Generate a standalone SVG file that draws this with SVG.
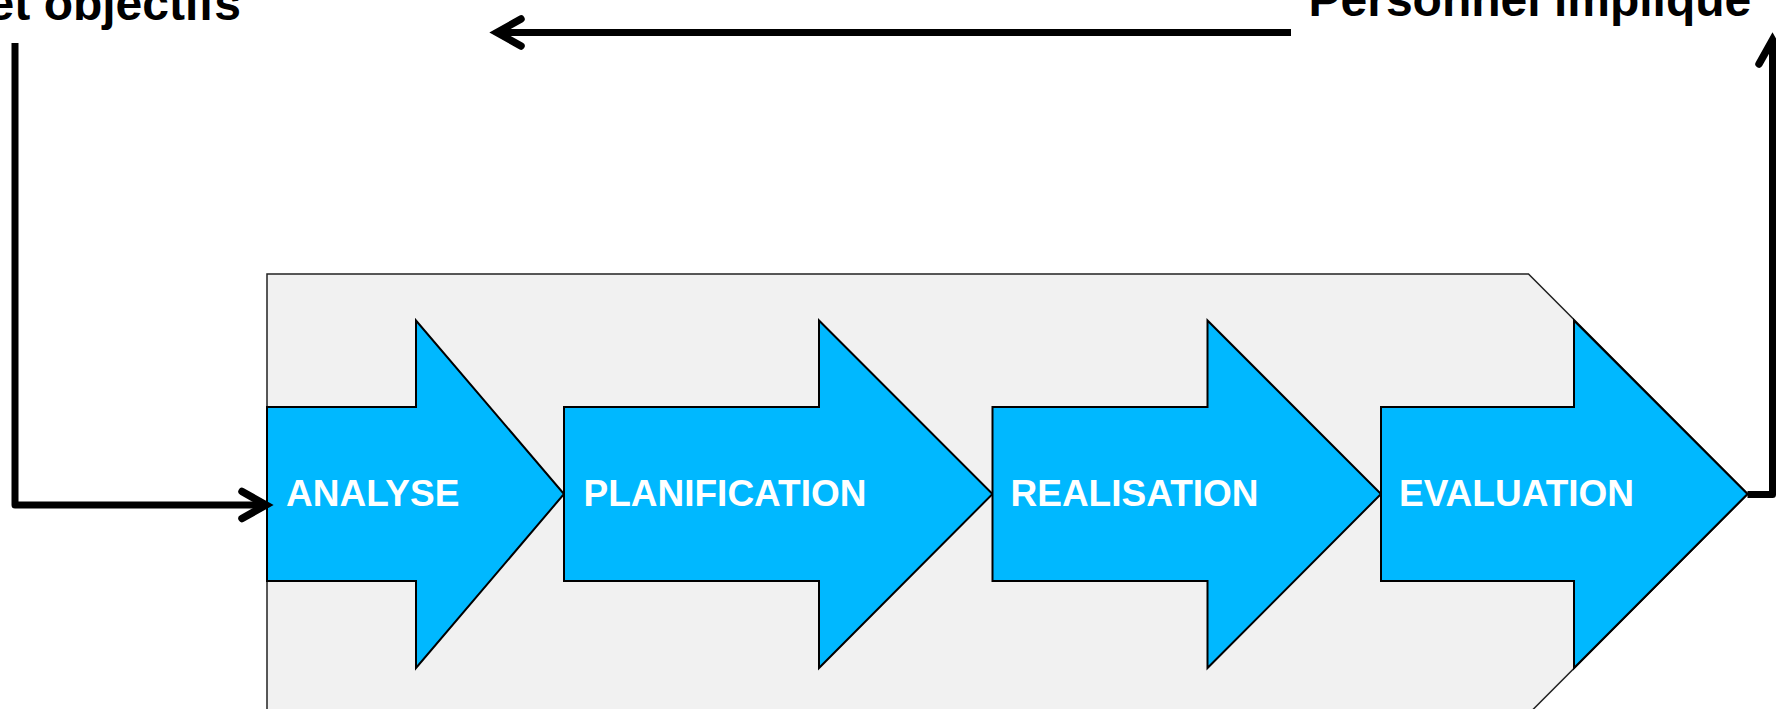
<svg xmlns="http://www.w3.org/2000/svg" width="1776" height="709" viewBox="0 0 1776 709">
<defs>
<style>
.bg{fill:#F1F1F1;stroke:#222;stroke-width:1.5}
.step{fill:#00B8FF;stroke:#000;stroke-width:2;stroke-linejoin:miter}
.lbl{font-family:"Liberation Sans",Arial,sans-serif;font-weight:bold;font-size:37px;fill:#fff}
.top{font-family:"Liberation Sans",Arial,sans-serif;font-weight:bold;font-size:48px;fill:#000}
.conn{fill:none;stroke:#000;stroke-width:7;stroke-linejoin:round;stroke-linecap:butt}
</style>
<marker id="ah" markerUnits="userSpaceOnUse" markerWidth="50" markerHeight="50" viewBox="-35 -25 50 50" refX="0" refY="0" orient="auto" overflow="visible">
<path d="M-24,-13.5 L0,0 L-24,13.5" fill="none" stroke="#000" stroke-width="7.5" stroke-linecap="round" stroke-linejoin="miter"/>
</marker>
</defs>
<g id="background">
<path class="bg" d="M267,274 L1528.5,274 L1748,494 L1528.5,714 L267,714 Z"/>
</g>
<g id="analyse">
<path class="step" d="M267,407 L416,407 L416,320.5 L564,494 L416,668 L416,581 L267,581 Z"/>
<text class="lbl" x="286" y="506">ANALYSE</text>
</g>
<g id="planification">
<path class="step" d="M564,407 L819,407 L819,320.5 L992.5,494 L819,668 L819,581 L564,581 Z"/>
<text class="lbl" x="583.5" y="506">PLANIFICATION</text>
</g>
<g id="realisation">
<path class="step" d="M992.5,407 L1207.5,407 L1207.5,320.5 L1381,494 L1207.5,668 L1207.5,581 L992.5,581 Z"/>
<text class="lbl" x="1010.5" y="506">REALISATION</text>
</g>
<g id="evaluation">
<path class="step" d="M1381,407 L1574,407 L1574,320.5 L1747.5,494 L1574,668 L1574,581 L1381,581 Z"/>
<text class="lbl" x="1399" y="506">EVALUATION</text>
</g>
<g id="label-objectifs">
<text class="top" x="241" y="20" text-anchor="end">et objectifs</text>
</g>
<g id="label-personnel">
<text class="top" x="1308.5" y="16">Personnel impliqué</text>
</g>
<g id="connectors">
<path class="conn" d="M15,43 L15,505 L266,505" marker-end="url(#ah)"/>
<path class="conn" d="M1291,32.5 L497,32.5" marker-end="url(#ah)"/>
<path class="conn" d="M1747.5,494.5 L1772.5,494.5 L1772.5,40" marker-end="url(#ah)"/>
</g>
</svg>
